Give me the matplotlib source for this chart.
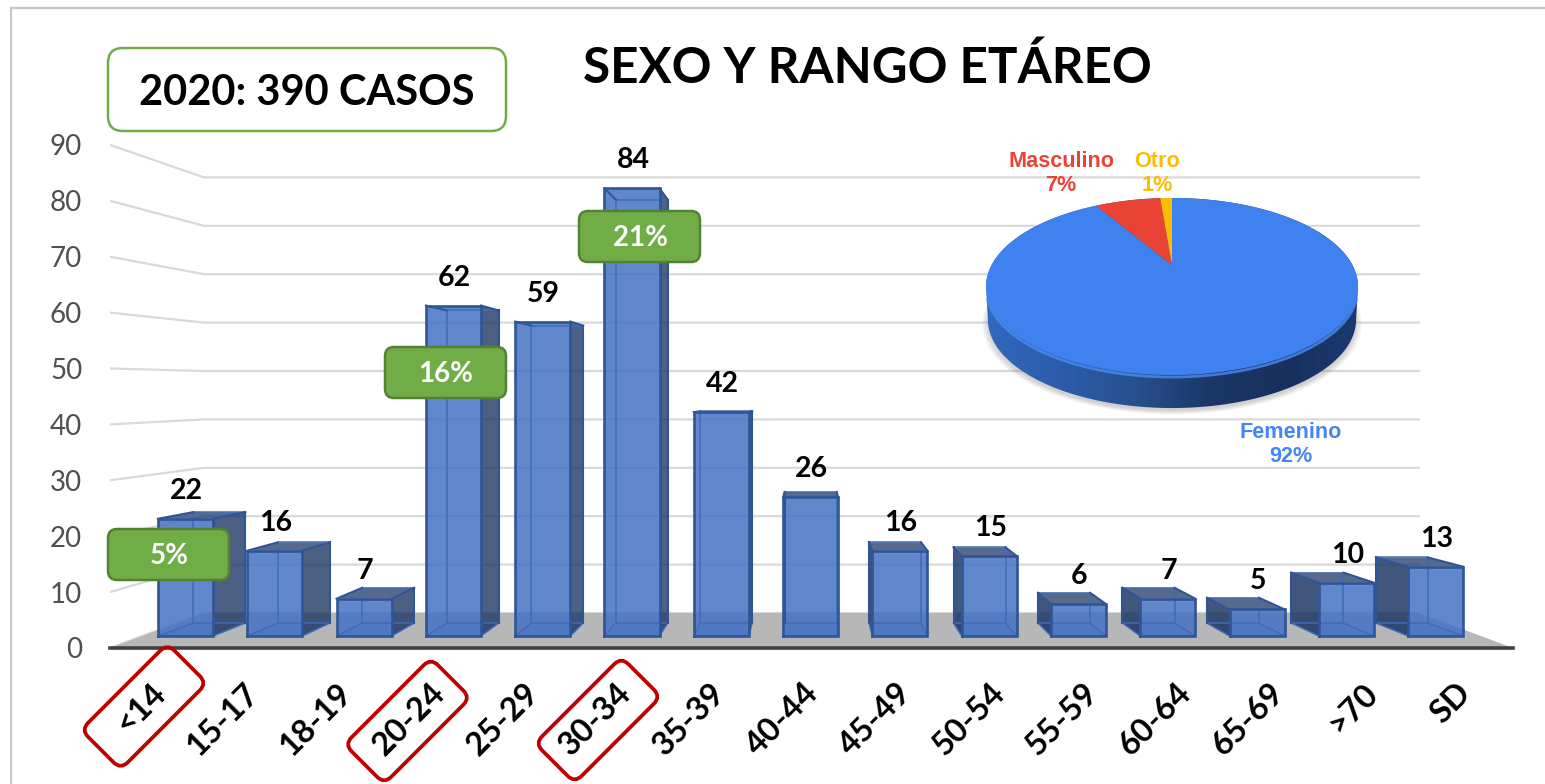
import numpy as np
import matplotlib
matplotlib.use('Agg')
import matplotlib.pyplot as plt
from matplotlib.colors import LinearSegmentedColormap
from matplotlib.patches import FancyBboxPatch, Polygon
from matplotlib.transforms import Affine2D

# chart data
categories = ['<14', '15-17', '18-19', '20-24', '25-29', '30-34', '35-39', '40-44',
               '45-49', '50-54', '55-59', '60-64', '65-69', '>70', 'SD']
cases = [22, 16, 7, 62, 59, 84, 42, 26, 16, 15, 6, 7, 5, 10, 13]
y_ticks = [0, 10, 20, 30, 40, 50, 60, 70, 80, 90]
sex_labels = ['Femenino', 'Masculino', 'Otro']
sex_values = [91.5, 7.2, 1.3]   # slices, labels show them rounded

W, H = 1545, 784
BASE_Y = 636      # pixel row of value 0 on the front of the bars
PX_Y = 5.33       # pixels per case
PX_X = 89.3       # pixels per category
X0 = 185.5        # pixel column of the first category
BAR_W = 0.616
DEPTH = 0.946     # how much the back of a bar shrinks
VP_X, VP_Y = 7.0, 45.0   # vanishing point in data units

BLUE = '#4472c4'
DARK = '#1f3864'
EDGE = '#2f5597'
GRID = '#d9d9d9'

plt.rcParams['font.family'] = ['Lato', 'DejaVu Sans']

fig = plt.figure(figsize=(W / 100, H / 100), dpi=100, facecolor='white')
ax = fig.add_axes([110 / W, (H - 648) / H, (1513 - 110) / W, 648 / H])
ax.set_xlim((110 - X0) / PX_X, (1513 - X0) / PX_X)
ax.set_ylim((BASE_Y - 648) / PX_Y, BASE_Y / PX_Y)
ax.patch.set_alpha(0)
for s in ['top', 'left', 'right']:
    ax.spines[s].set_visible(False)
ax.spines['bottom'].set_color('#404040')
ax.spines['bottom'].set_linewidth(2.6)


def back(x, y):
    return VP_X + (x - VP_X) * DEPTH, VP_Y + (y - VP_Y) * DEPTH


def wall_front(v):
    return (BASE_Y - 648 + 5.59 * v) / PX_Y


def wall_back(v):
    return (BASE_Y - 613 + 4.84 * v) / PX_Y


wall_x0 = (110 - X0) / PX_X
wall_x1 = (204 - X0) / PX_X
wall_x2 = (1419 - X0) / PX_X
floor_x3 = (1513 - X0) / PX_X

# walls and floor
for v in y_ticks:
    ax.plot([wall_x0, wall_x1, wall_x2], [wall_front(v), wall_back(v), wall_back(v)],
            color=GRID, lw=1.6, zorder=1, solid_joinstyle='round')
ax.add_patch(Polygon([(wall_x0, wall_front(0)), (floor_x3, wall_front(0)),
                      (wall_x2, wall_back(0)), (wall_x1, wall_back(0))],
                     closed=True, fc='#b7b7b7', ec='none', zorder=1.5))

ax.set_yticks([wall_front(v) for v in y_ticks], [str(v) for v in y_ticks])
ax.tick_params(axis='y', length=0, pad=20, labelsize=20, labelcolor='#505050')

# x labels sit on the front edge of the floor
tick_pos = [VP_X + (i - VP_X) / 0.958 - 0.085 for i in range(len(categories))]
ax.set_xticks(tick_pos, categories, rotation=45, ha='right', va='top',
              rotation_mode='anchor', fontweight='bold', fontsize=23.5, color='black')
ax.tick_params(axis='x', length=0, pad=21.5)

# the bars, drawn as see through boxes
for i, v in enumerate(cases):
    l, r = i - BAR_W / 2, i + BAR_W / 2
    bl, bb = back(l, 0)
    br, _ = back(r, 0)
    _, bt = back(l, v)
    z = 3 + i * 0.01

    # bottom of the box
    ax.add_patch(Polygon([(l, 0), (r, 0), (br, bb), (bl, bb)], closed=True,
                         fc=BLUE, alpha=0.35, ec='none', zorder=z))
    # outer side face
    if i < VP_X:
        ax.add_patch(Polygon([(r, 0), (br, bb), (br, bt), (r, v)], closed=True,
                             fc=DARK, alpha=0.8, ec='none', zorder=z))
    elif i > VP_X:
        ax.add_patch(Polygon([(l, 0), (bl, bb), (bl, bt), (l, v)], closed=True,
                             fc=DARK, alpha=0.85, ec='none', zorder=z))
    # top face can only be seen when it is under the vanishing point
    if v < VP_Y:
        ax.add_patch(Polygon([(l, v), (r, v), (br, bt), (bl, bt)], closed=True,
                             fc=DARK, alpha=0.75, ec='none', zorder=z))
    ax.add_patch(Polygon([(l, 0), (r, 0), (r, v), (l, v)], closed=True,
                         fc=BLUE, alpha=0.85, ec='none', zorder=z + 0.001))

    # inner lines of the back
    ax.plot([bl, bl, br, br, bl], [bb, bt, bt, bb, bb], color='#3f6bb8', lw=1.1,
            zorder=z + 0.002)
    for px, bpx in [(l, bl), (r, br)]:
        ax.plot([px, bpx], [0, bb], color='#3f6bb8', lw=1.1, zorder=z + 0.002)
        ax.plot([px, bpx], [v, bt], color=EDGE, lw=1.5, zorder=z + 0.003)
    ax.plot([l, r, r, l, l], [0, 0, v, v, 0], color=EDGE, lw=1.9, zorder=z + 0.004,
            solid_joinstyle='miter')
    outer = br if i < VP_X else bl
    ax.plot([outer, outer], [bb, bt], color=EDGE, lw=1.5, zorder=z + 0.003)

    ax.annotate(str(v), (i, v), xytext=(1, 28), textcoords='offset pixels', ha='center',
                va='center', fontsize=20.5, fontweight='bold', color='black', zorder=6)

# overlay in pixels for pie, boxes and titles
ov = fig.add_axes([0, 0, 1, 1], zorder=5)
ov.set_xlim(0, W)
ov.set_ylim(H, 0)
ov.axis('off')

# chart frame
ov.plot([11, 11], [H, 8], color='#c8c8c8', lw=1.6)
ov.plot([11, W], [8, 8], color='#c8c8c8', lw=1.6)

# pie with a perspective tilt
APEX_X, APEX_Y = 1172, 265
PIE_A, PIE_B, PIE_P = 180.4, 83.3, 0.243
PIE_D = 33


def pie_pt(t):
    t = np.asarray(t)
    w = 1 + PIE_P * np.cos(t)
    return APEX_X + PIE_A * np.sin(t) / w, APEX_Y - PIE_B * np.cos(t) / w


# soft shadow
tt = np.linspace(0, 2 * np.pi, 240)
for k in range(7):
    sx, sy = pie_pt(tt)
    grow = 0.985 + 0.006 * k
    ov.fill(APEX_X + (sx - APEX_X) * grow, APEX_Y + (sy - APEX_Y) * grow + PIE_D + 4,
            color='#808080', alpha=0.06, lw=0, zorder=1)

# side band
t_r = np.arccos(-PIE_P)
t_l = 2 * np.pi - t_r
low = np.linspace(t_r, t_l, 120)
up = np.linspace(t_l, t_r + 2 * np.pi, 160)
lx, ly = pie_pt(low)
ux, uy = pie_pt(up)
band = Polygon(np.column_stack([np.r_[APEX_X + (lx - APEX_X) * 0.99, ux], np.r_[ly + PIE_D, uy]]),
               closed=True, transform=ov.transData, fc='none', ec='none')
ov.add_patch(band)
side_cmap = LinearSegmentedColormap.from_list(
    'side', ['#3268be', '#2c5cab', '#27508f', '#1a3768', '#17305c', '#1c3a70'])
img = ov.imshow(np.linspace(0, 1, 256).reshape(1, -1), cmap=side_cmap, aspect='auto',
                extent=(985, 1359, 420, 190), zorder=2)
img.set_clip_path(band)
ov.set_xlim(0, W)
ov.set_ylim(H, 0)

# top face
sex_colors = ['#3f81ee', '#ea4335', '#fbbc04']
start = 0.0
for val, col in zip(sex_values, sex_colors):
    stop = start + val / sum(sex_values) * 2 * np.pi
    tw = np.linspace(start, stop, 200)
    wx, wy = pie_pt(tw)
    ov.fill(np.r_[APEX_X, wx], np.r_[APEX_Y, wy], color=col, lw=0, zorder=3)
    start = stop

# light rim on the near edge
rim = np.linspace(t_r + 0.12, t_l - 0.12, 120)
rx, ry = pie_pt(rim)
ov.plot(rx, ry + 2, color='#4a8cf2', lw=2, zorder=3.5, alpha=0.8, solid_capstyle='round')

# pie labels
pie_label_pos = [(1291, 432, 456), (1061, 161, 185), (1157, 161, 185)]
label_colors = ['#4285f4', '#ea4335', '#fbbc04']
for name, val, col, (px, y1, y2) in zip(sex_labels, sex_values, label_colors, pie_label_pos):
    ov.text(px, y1, name, color=col, ha='center', va='center', fontsize=15.6,
            fontweight='bold', family='Liberation Sans', zorder=6)
    ov.text(px, y2, f'{val:.0f}%', color=col, ha='center', va='center', fontsize=15.6,
            fontweight='bold', family='Liberation Sans', zorder=6)

# title and case box
ov.text(867, 68, 'SEXO Y RANGO ETÁREO', ha='center', va='center', fontsize=35.6,
        fontweight='bold', color='black')
ov.add_patch(FancyBboxPatch((108, 48), 398, 83, boxstyle='round,pad=0,rounding_size=15',
                            fc='white', ec='#70ad47', lw=1.8, zorder=4))
ov.text(307, 93, '2020: 390 CASOS', ha='center', va='center', fontsize=30,
        fontweight='bold', color='black', zorder=5)

# green share boxes
share_boxes = [(108, 529, '5%'), (385, 347, '16%'), (579, 211, '21%')]
for bx, by, txt in share_boxes:
    ov.add_patch(FancyBboxPatch((bx, by), 121, 51, boxstyle='round,pad=0,rounding_size=9',
                                fc='#70ad47', ec='#548235', lw=1.8, zorder=4))
    ov.text(bx + 61, by + 27, txt, ha='center', va='center', fontsize=20, fontweight='bold',
            color='white', zorder=5)

# red marks around the highlighted labels
red_boxes = [(144, 706.5, 122), (407.5, 721, 122), (598, 720, 122)]
for cx, cy, length in red_boxes:
    p = FancyBboxPatch((cx - length / 2, cy - 28), length, 56,
                       boxstyle='round,pad=0,rounding_size=10', fc='none', ec='#c00000', lw=2.7,
                       zorder=5, clip_on=False)
    p.set_transform(Affine2D().rotate_deg_around(cx, cy, -45) + ov.transData)
    ov.add_patch(p)

fig.savefig('out.png', dpi=100)
